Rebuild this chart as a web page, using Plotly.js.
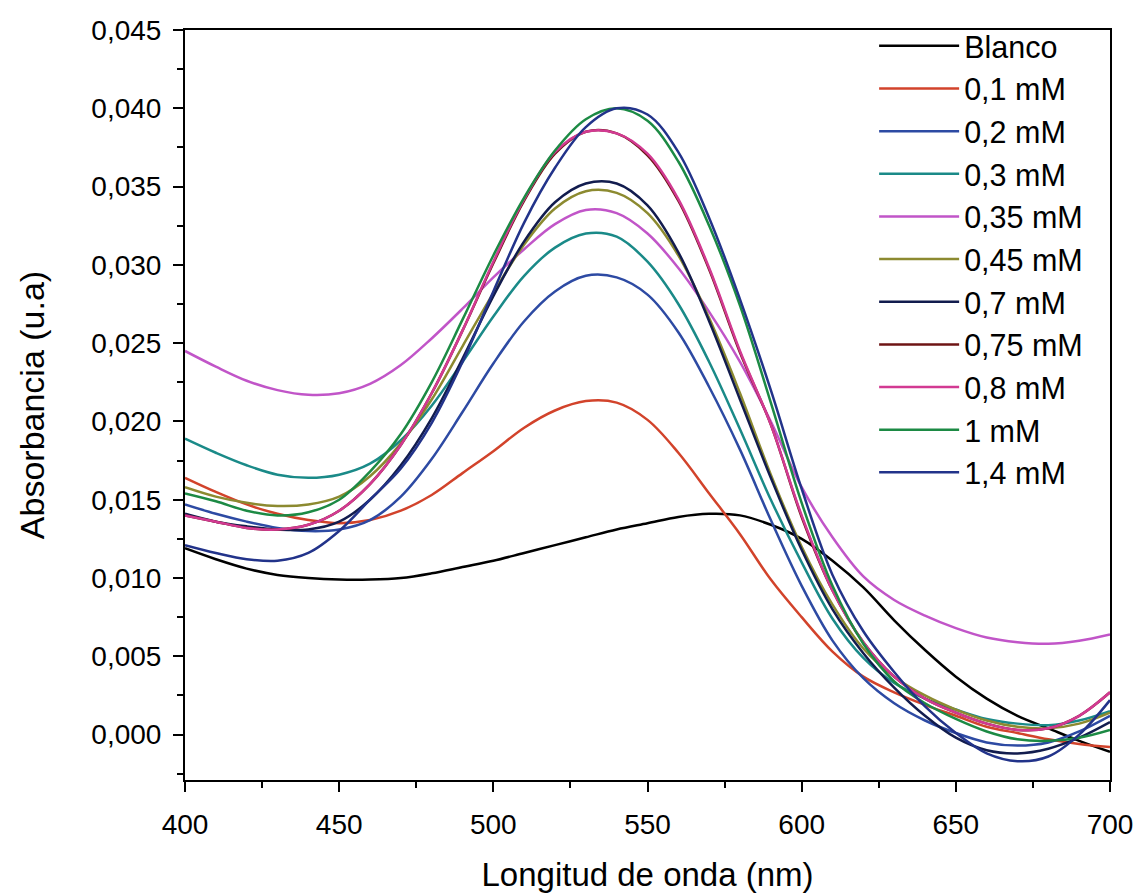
<!DOCTYPE html>
<html>
<head>
<meta charset="utf-8">
<script src="https://cdn.plot.ly/plotly-3.0.1.min.js"></script>
<style>
  html, body { margin: 0; padding: 0; background: #ffffff; }
  #chart { width: 1137px; height: 893px; }
</style>
</head>
<body>
<div id="chart"></div>
<script>
// Wavelength (nm)
const wavelength = [400, 410, 420, 430, 440, 450, 460, 470, 480, 490, 500, 510, 520, 530, 540, 550,
                    560, 570, 580, 590, 600, 610, 620, 630, 640, 650, 660, 670, 680, 690, 700];

const seriesNames = ["Blanco", "0,1 mM", "0,2 mM", "0,3 mM", "0,35 mM", "0,45 mM",
                     "0,7 mM", "0,75 mM", "0,8 mM", "1 mM", "1,4 mM"];

const blanco = [0.0119, 0.0112, 0.0106, 0.0102, 0.0100, 0.0099, 0.0099, 0.0100, 0.0103, 0.0107, 0.0111,
                0.0116, 0.0121, 0.0126, 0.0131, 0.0135, 0.0139, 0.0141, 0.0140, 0.0134, 0.0125,
                0.0111, 0.0094, 0.0073, 0.0054, 0.0037, 0.0023, 0.0012, 0.0004, -0.0004, -0.0011];

const mM_0_1 = [0.0164, 0.0155, 0.0147, 0.0141, 0.0137, 0.0135, 0.0137, 0.0143, 0.0153, 0.0167, 0.0181,
                0.0196, 0.0207, 0.0213, 0.0212, 0.0201, 0.0180, 0.0154, 0.0128, 0.0099, 0.0075,
                0.0053, 0.0037, 0.0027, 0.0019, 0.0012, 0.0005, 0.0001, -0.0003, -0.0006, -0.0008];

const mM_0_2 = [0.0147, 0.0141, 0.0136, 0.0132, 0.0130, 0.0131, 0.0137, 0.0152, 0.0176, 0.0206, 0.0237,
                0.0264, 0.0283, 0.0293, 0.0292, 0.0281, 0.0257, 0.0222, 0.0182, 0.0137, 0.0095,
                0.0060, 0.0036, 0.0020, 0.0009, 0.0001, -0.0005, -0.0007, -0.0005, 0.0002, 0.0012];

const mM_0_3 = [0.0189, 0.0180, 0.0172, 0.0166, 0.0164, 0.0166, 0.0173, 0.0188, 0.0210, 0.0238, 0.0267,
                0.0293, 0.0311, 0.0320, 0.0318, 0.0302, 0.0275, 0.0238, 0.0195, 0.0150, 0.0110,
                0.0074, 0.0049, 0.0033, 0.0023, 0.0016, 0.0010, 0.0007, 0.0006, 0.0009, 0.0015];

const mM_0_35 = [0.0245, 0.0235, 0.0226, 0.0220, 0.0217, 0.0218, 0.0224, 0.0236, 0.0253, 0.0272, 0.0292,
                 0.0310, 0.0326, 0.0335, 0.0333, 0.0320, 0.0298, 0.0270, 0.0238, 0.0200, 0.0158,
                 0.0126, 0.0101, 0.0086, 0.0076, 0.0068, 0.0062, 0.0059, 0.0058, 0.0060, 0.0064];

const mM_0_45 = [0.0158, 0.0152, 0.0148, 0.0146, 0.0147, 0.0152, 0.0165, 0.0186, 0.0214, 0.0248, 0.0282,
                 0.0313, 0.0336, 0.0347, 0.0346, 0.0333, 0.0306, 0.0266, 0.0218, 0.0166, 0.0120,
                 0.0083, 0.0055, 0.0037, 0.0025, 0.0016, 0.0009, 0.0005, 0.0004, 0.0007, 0.0014];

const mM_0_7 = [0.0141, 0.0136, 0.0133, 0.0131, 0.0131, 0.0136, 0.0150, 0.0172, 0.0202, 0.0240, 0.0280,
                0.0315, 0.0340, 0.0352, 0.0352, 0.0338, 0.0308, 0.0264, 0.0214, 0.0164, 0.0118,
                0.0080, 0.0052, 0.0030, 0.0012, -0.0002, -0.0010, -0.0012, -0.0009, -0.0002, 0.0008];

const mM_0_75 = [0.0140, 0.0136, 0.0132, 0.0131, 0.0134, 0.0143, 0.0160, 0.0185, 0.0218, 0.0258, 0.0301,
                 0.0341, 0.0371, 0.0385, 0.0384, 0.0370, 0.0341, 0.0297, 0.0244, 0.0198, 0.0139,
                 0.0092, 0.0059, 0.0037, 0.0023, 0.0014, 0.0007, 0.0003, 0.0004, 0.0012, 0.0027];

const mM_0_8 = [0.0140, 0.0136, 0.0132, 0.0131, 0.0134, 0.0143, 0.0160, 0.0185, 0.0218, 0.0258, 0.0302,
                0.0342, 0.0372, 0.0385, 0.0384, 0.0371, 0.0342, 0.0298, 0.0245, 0.0198, 0.0140,
                0.0092, 0.0059, 0.0037, 0.0023, 0.0014, 0.0007, 0.0003, 0.0004, 0.0012, 0.0027];

const mM_1 = [0.0154, 0.0149, 0.0143, 0.0140, 0.0142, 0.0150, 0.0168, 0.0192, 0.0225, 0.0265, 0.0306,
              0.0343, 0.0373, 0.0393, 0.0400, 0.0392, 0.0366, 0.0325, 0.0274, 0.0212, 0.0148,
              0.0095, 0.0058, 0.0034, 0.0020, 0.0010, 0.0002, -0.0003, -0.0004, -0.0002, 0.0003];

const mM_1_4 = [0.0121, 0.0116, 0.0112, 0.0111, 0.0116, 0.0130, 0.0150, 0.0170, 0.0199, 0.0238, 0.0283,
                0.0327, 0.0362, 0.0388, 0.0400, 0.0396, 0.0372, 0.0330, 0.0278, 0.0220, 0.0157,
                0.0102, 0.0066, 0.0040, 0.0018, 0.0001, -0.0012, -0.0017, -0.0014, 0.0000, 0.0022];

const seriesValues = [blanco, mM_0_1, mM_0_2, mM_0_3, mM_0_35, mM_0_45, mM_0_7, mM_0_75, mM_0_8, mM_1, mM_1_4];

const seriesColors = ["#000000", "#d2432b", "#2d4aa3", "#1a8a88", "#c155c8", "#8c8a30",
                      "#121c4e", "#6e1414", "#d23a92", "#1c8a44", "#22338a"];

const xTickVals = [400, 450, 500, 550, 600, 650, 700];
const yTickVals = [0.000, 0.005, 0.010, 0.015, 0.020, 0.025, 0.030, 0.035, 0.040, 0.045];

const FONT = "Arial, 'Liberation Sans', Helvetica, sans-serif";

const traces = seriesNames.map((name, i) => ({
  type: "scatter",
  mode: "lines",
  name: name,
  x: wavelength,
  y: seriesValues[i],
  line: { color: seriesColors[i], width: 2.5, shape: "spline", smoothing: 1 }
}));

const axisCommon = {
  showgrid: false,
  zeroline: false,
  showline: true,
  linecolor: "#000000",
  linewidth: 2,
  mirror: true,
  ticks: "outside",
  ticklen: 10,
  tickwidth: 2,
  tickcolor: "#000000",
  tickfont: { family: FONT, size: 28, color: "#000000" }
};

const layout = {
  width: 1137,
  height: 893,
  paper_bgcolor: "#ffffff",
  plot_bgcolor: "#ffffff",
  separators: ",.",
  margin: { l: 185, r: 27, t: 30, b: 113 },
  showlegend: true,
  legend: {
    x: 0.745, y: 1.014, xanchor: "left", yanchor: "top",
    bgcolor: "rgba(0,0,0,0)",
    borderwidth: 0,
    font: { family: FONT, size: 30.5, color: "#000000" },
    itemwidth: 80,
    tracegroupgap: 0,
    maxheight: 700
  },
  xaxis: Object.assign({}, axisCommon, {
    range: [400, 700],
    tickvals: xTickVals,
    ticktext: xTickVals.map(String),
    ticklabelstandoff: 8,
    minor: { dtick: 25, ticklen: 6, tickwidth: 2, tickcolor: "#000000", ticks: "outside" },
    title: { text: "Longitud de onda (nm)", font: { family: FONT, size: 33, color: "#000000" }, standoff: 24 }
  }),
  yaxis: Object.assign({}, axisCommon, {
    range: [-0.0029, 0.045],
    tickvals: yTickVals,
    tickformat: ".3f",
    ticklabelstandoff: 6,
    minor: { dtick: 0.0025, tick0: 0, ticklen: 6, tickwidth: 2, tickcolor: "#000000", ticks: "outside" },
    title: { text: "Absorbancia (u.a)", font: { family: FONT, size: 34, color: "#000000" }, standoff: 36 }
  })
};

Plotly.newPlot("chart", traces, layout, { displayModeBar: false, staticPlot: true });
</script>
</body>
</html>
